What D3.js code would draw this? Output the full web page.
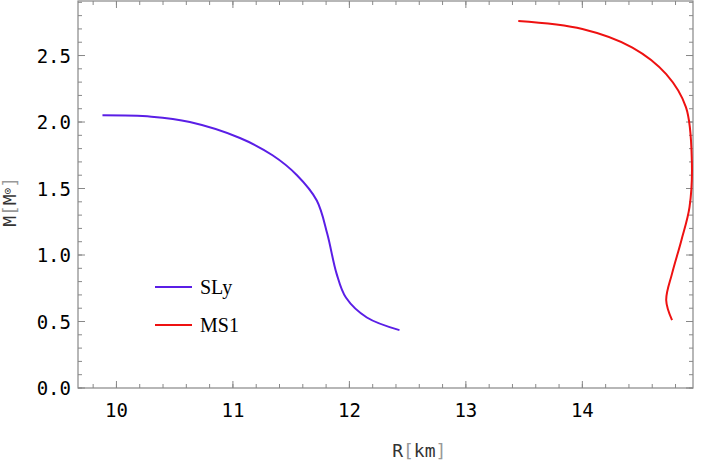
<!DOCTYPE html>
<html><head><meta charset="utf-8">
<script src="https://cdn.jsdelivr.net/npm/d3@7"></script>
<style>body{margin:0;background:#fff}</style>
</head><body>
<script>
// Mass-radius curves, values
const slyR = [9.88, 10.3, 10.63, 11.06, 11.34, 11.55, 11.72, 11.81, 11.89, 11.97, 12.15, 12.43];
const slyM = [2.05, 2.04, 2.00, 1.88, 1.75, 1.60, 1.41, 1.16, 0.86, 0.68, 0.53, 0.435];
const ms1R = [13.45, 14.0, 14.43, 14.72, 14.89, 14.94, 14.92, 14.85, 14.77, 14.72, 14.77];
const ms1M = [2.76, 2.70, 2.56, 2.36, 2.11, 1.71, 1.36, 1.11, 0.86, 0.66, 0.51];
const xTicks = [10, 11, 12, 13, 14];
const yTicks = [0, 0.5, 1.0, 1.5, 2.0, 2.5];

const W = 706, H = 461;
const margin = { top: 1, right: 13, bottom: 73, left: 78 };
const width = W - margin.left - margin.right;
const height = H - margin.top - margin.bottom;

const svg = d3.select('body').append('svg')
    .attr('width', W).attr('height', H)
    .append('g')
    .attr('transform', `translate(${margin.left},${margin.top})`);

const x = d3.scaleLinear().domain([9.67, 14.95]).range([0, width]);
const y = d3.scaleLinear().domain([0, 2.91]).range([height, 0]);

const mono = 'DejaVu Sans Mono';
const frame = '#888';

// minor + major ticks on all four sides (frame style)
const xMinor = d3.range(9.8, 14.95, 0.2);
const yMinor = d3.range(0, 2.91, 0.1);
function ticks(vals, major, isX) {
    vals.forEach(v => {
        const len = major ? 7 : 4;
        if (isX) {
            svg.append('line').attr('x1', x(v)).attr('x2', x(v)).attr('y1', height).attr('y2', height - len).attr('stroke', frame);
            svg.append('line').attr('x1', x(v)).attr('x2', x(v)).attr('y1', 0).attr('y2', len).attr('stroke', frame);
        } else {
            svg.append('line').attr('y1', y(v)).attr('y2', y(v)).attr('x1', 0).attr('x2', len).attr('stroke', frame);
            svg.append('line').attr('y1', y(v)).attr('y2', y(v)).attr('x1', width).attr('x2', width - len).attr('stroke', frame);
        }
    });
}
ticks(xMinor, false, true);
ticks(xTicks, true, true);
ticks(yMinor, false, false);
ticks(yTicks, true, false);

svg.append('rect').attr('width', width).attr('height', height)
    .attr('fill', 'none').attr('stroke', frame).attr('stroke-width', 1.2);

// tick labels
svg.selectAll('.xl').data(xTicks).enter().append('text')
    .attr('x', d => x(d)).attr('y', height + 29)
    .attr('text-anchor', 'middle').style('font-family', mono).style('font-size', '19px')
    .text(d => d);
svg.selectAll('.yl').data(yTicks).enter().append('text')
    .attr('x', -7).attr('y', d => y(d) + 7)
    .attr('text-anchor', 'end').style('font-family', mono).style('font-size', '19px')
    .text(d => d.toFixed(1));

// axis titles
svg.append('text').attr('x', x(12.6)).attr('y', height + 69)
    .attr('text-anchor', 'middle').style('font-family', mono).style('font-size', '18px').attr('fill', '#333')
    .html('R<tspan fill="#999">[</tspan>km<tspan fill="#999">]</tspan>');
svg.append('text').attr('transform', `translate(${-62},${y(1.4)}) rotate(-90)`)
    .attr('text-anchor', 'middle').style('font-family', mono).style('font-size', '18px').attr('fill', '#333')
    .html('M<tspan fill="#999">[</tspan>M<tspan font-size="11" dy="-5">\u2299</tspan><tspan dy="5" fill="#999">]</tspan>');

// curves
const line = (rs, ms) => d3.line().curve(d3.curveCatmullRom)(rs.map((r, i) => [x(r), y(ms[i])]));
const series = [
    { name: 'SLy', r: slyR, m: slyM, color: '#5a1ee6' },
    { name: 'MS1', r: ms1R, m: ms1M, color: '#ee1111' }
];
series.forEach(s => {
    svg.append('path').attr('d', line(s.r, s.m))
        .attr('fill', 'none').attr('stroke', s.color).attr('stroke-width', 2);
});

// legend
const legend = svg.append('g').attr('transform', `translate(77, 286)`);
series.forEach((s, i) => {
    const g = legend.append('g').attr('transform', `translate(0, ${i * 38})`);
    g.append('line').attr('x1', 0).attr('x2', 37).attr('stroke', s.color).attr('stroke-width', 2);
    g.append('text').attr('x', 45).attr('y', 7)
        .style('font-family', 'Liberation Serif').style('font-size', '20px').text(s.name);
});
</script>
</body></html>
